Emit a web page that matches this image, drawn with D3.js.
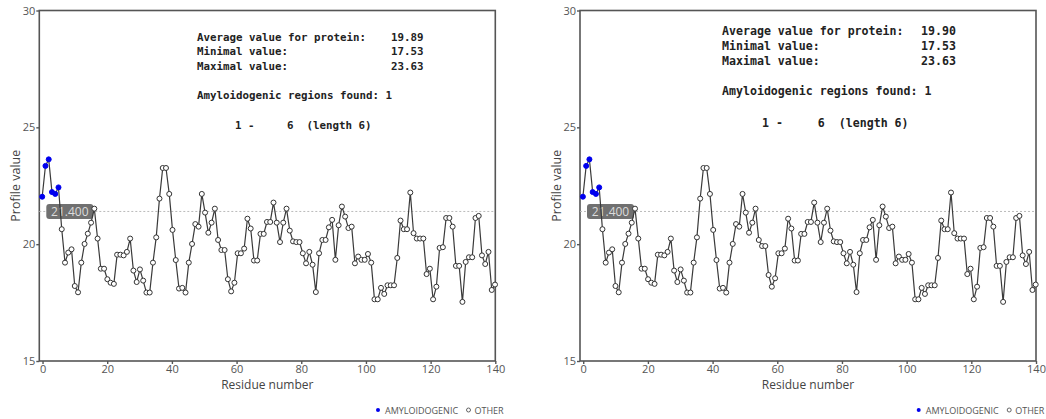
<!DOCTYPE html>
<html><head><meta charset="utf-8">
<script src="https://cdn.jsdelivr.net/npm/d3@7"></script>
<style>body{margin:0;background:#fff}svg{display:block}</style>
</head><body><svg id="c" width="1046" height="419"></svg>
<script>
// ---- data ----
const xTicks = [0, 20, 40, 60, 80, 100, 120, 140];
const yTicks = [15, 20, 25, 30];
const threshold = 21.4;
const amyloidRegion = [1, 6]; // residues 1-6

const leftProfile = [22.03,23.35,23.63,22.23,22.15,22.43,20.64,19.21,19.64,19.78,18.21,17.94,19.21,20.01,20.45,20.92,21.52,20.24,18.95,18.95,18.50,18.35,18.30,19.55,19.55,19.52,19.67,20.24,18.87,18.38,18.92,18.44,17.93,17.93,19.21,20.29,21.95,23.26,23.26,22.15,20.61,19.32,18.10,18.13,17.93,19.21,20.01,20.86,20.75,22.15,21.35,20.49,20.92,21.52,20.18,19.75,19.75,18.50,17.98,18.35,19.61,19.61,19.81,21.09,20.67,19.30,19.30,20.44,20.44,20.95,20.95,21.78,20.92,20.09,20.92,21.52,20.58,20.12,20.09,20.09,19.61,19.18,19.67,19.12,17.95,19.61,20.18,20.18,20.72,21.04,19.33,20.81,21.61,21.18,20.69,20.75,19.18,19.47,19.33,19.33,19.58,19.21,17.64,17.64,18.13,17.87,18.24,18.24,18.24,19.41,21.01,20.64,20.64,22.21,20.47,20.24,20.24,20.24,18.72,18.95,17.64,18.18,19.84,19.87,21.12,21.12,20.75,19.07,19.07,17.53,19.24,19.44,19.44,21.12,21.21,19.52,19.15,19.67,18.04,18.27];

const rightProfile = [22.03,23.35,23.63,22.23,22.15,22.43,20.64,19.21,19.64,19.78,18.21,17.94,19.21,20.01,20.45,20.92,21.52,20.24,18.95,18.95,18.50,18.35,18.30,19.55,19.55,19.52,19.67,20.24,18.87,18.38,18.92,18.44,17.93,17.93,19.21,20.29,21.95,23.26,23.26,22.15,20.61,19.32,18.10,18.13,17.93,19.21,20.01,20.86,20.75,22.15,21.35,20.49,20.92,21.52,20.18,19.92,19.92,18.68,18.18,18.54,19.61,19.61,19.81,21.09,20.67,19.30,19.30,20.44,20.44,20.95,20.95,21.78,20.92,20.09,20.92,21.52,20.58,20.12,20.09,20.09,19.61,19.18,19.67,19.12,17.95,19.61,20.18,20.18,20.72,21.04,19.33,20.81,21.61,21.18,20.69,20.75,19.18,19.47,19.33,19.33,19.58,19.21,17.64,17.64,18.13,17.87,18.24,18.24,18.24,19.41,21.01,20.64,20.64,22.21,20.47,20.24,20.24,20.24,18.72,18.95,17.64,18.18,19.84,19.87,21.12,21.12,20.75,19.07,19.07,17.53,19.24,19.44,19.44,21.12,21.21,19.52,19.15,19.67,18.04,18.27];

const statLabels = ["Average value for protein:", "Minimal value:", "Maximal value:"];
const leftStats = ["19.89", "17.53", "23.63"];
const rightStats = ["19.90", "17.53", "23.63"];
const regionsText = "Amyloidogenic regions found: 1";
const regionLine = "1 -     6  (length 6)";
const legendLabels = ["AMYLOIDOGENIC", "OTHER"];

// ---- drawing ----
const svg = d3.select("#c");
const panels = [
  {dx: 0, values: leftProfile, stats: leftStats, tx: 197, ty: 40.5, fs: 10.8, lh: 14.5, vx: 194, rx: 38, ry: [58.5, 88.5]},
  {dx: 540.7, values: rightProfile, stats: rightStats, tx: 722, ty: 35, fs: 11.6, lh: 15, vx: 199, rx: 40, ry: [60, 92]}
];

panels.forEach(p => {
  const g = svg.append("g").attr("transform", `translate(${p.dx},0)`);
  const left = 39.3, right = 495.3, top = 10.5, bottom = 361;
  const xAxisScale = d3.scaleLinear().domain([-1, 140]).range([left, right]);
  const n = p.values.length;
  const x = d3.scaleLinear().domain([1, n]).range([42.2, 495]);
  const y = d3.scaleLinear().domain([15, 30]).range([bottom, top]);

  // frame
  g.append("rect").attr("x", left).attr("y", top).attr("width", right - left).attr("height", bottom - top)
    .attr("fill", "none").attr("stroke", "#555").attr("stroke-width", 1.6);

  const ya = g.append("g").attr("transform", `translate(${left},0)`)
    .call(d3.axisLeft(y).tickValues(yTicks).tickSize(3).tickPadding(1));
  const xa = g.append("g").attr("transform", `translate(0,${bottom})`)
    .call(d3.axisBottom(xAxisScale).tickValues(xTicks).tickSize(3).tickPadding(1));
  [ya, xa].forEach(a => {
    a.select(".domain").remove();
    a.selectAll("line").attr("stroke", "#555").attr("stroke-width", 1.4);
    a.selectAll("text").attr("fill", "#555").style("font-family", "'Open Sans', sans-serif").style("font-size", "11px");
  });

  g.append("text").attr("x", (left + right) / 2).attr("y", 389).attr("text-anchor", "middle")
    .attr("fill", "#444").style("font-family", "'Open Sans', sans-serif").style("font-size", "12px").text("Residue number");
  g.append("text").attr("transform", `translate(20,${(top + bottom) / 2}) rotate(-90)`).attr("text-anchor", "middle")
    .attr("fill", "#444").style("font-family", "'Open Sans', sans-serif").style("font-size", "12.5px").text("Profile value");

  // threshold line
  g.append("line").attr("x1", left).attr("x2", right).attr("y1", y(threshold)).attr("y2", y(threshold))
    .attr("stroke", "#bbb").attr("stroke-width", 1).attr("stroke-dasharray", "2,2");
  const by = y(threshold);
  g.append("rect").attr("x", left + 7).attr("y", by - 7.5).attr("width", 47).attr("height", 15).attr("rx", 3)
    .attr("fill", "#707070");
  g.append("text").attr("x", left + 7 + 23.5).attr("y", by + 4.2).attr("text-anchor", "middle")
    .attr("fill", "#dcdcdc").style("font-family", "'Open Sans', sans-serif").style("font-size", "12px")
    .text(threshold.toFixed(3));

  // line + points
  const pts = p.values.map((v, k) => ({r: k + 1, v, amy: k + 1 >= amyloidRegion[0] && k + 1 <= amyloidRegion[1]}));
  g.append("path").datum(pts).attr("fill", "none").attr("stroke", "#3a3a3a").attr("stroke-width", 1.2)
    .attr("d", d3.line().x(d => x(d.r)).y(d => y(d.v)));
  g.selectAll("circle.pt").data(pts).join("circle").attr("class", "pt")
    .attr("cx", d => x(d.r)).attr("cy", d => y(d.v)).attr("r", 2.5)
    .attr("fill", d => d.amy ? "#0000ee" : "#fff")
    .attr("stroke", d => d.amy ? "#0000ee" : "#333").attr("stroke-width", 1);

  // stats text
  const mono = "'DejaVu Sans Mono', monospace";
  const tg = g.append("g").attr("fill", "#222").style("font-family", mono).style("font-size", p.fs + "px").style("font-weight", "bold");
  const tx = p.tx - p.dx;
  statLabels.forEach((s, k) => {
    tg.append("text").attr("x", tx).attr("y", p.ty + k * p.lh).text(s);
    tg.append("text").attr("x", tx + p.vx).attr("y", p.ty + k * p.lh).text(p.stats[k]);
  });
  tg.append("text").attr("x", tx).attr("y", p.ty + p.ry[0]).text(regionsText);
  tg.append("text").attr("x", tx + p.rx).attr("y", p.ty + p.ry[1]).attr("xml:space", "preserve").style("white-space", "pre").text(regionLine);

  // legend
  const lg = g.append("g").style("font-family", "'Open Sans', sans-serif").style("font-size", "9px").attr("fill", "#555");
  lg.append("circle").attr("cx", 378).attr("cy", 410).attr("r", 2).attr("fill", "#0000ee");
  lg.append("text").attr("x", 385).attr("y", 413.5).text(legendLabels[0]);
  lg.append("circle").attr("cx", 468.5).attr("cy", 410).attr("r", 2).attr("fill", "#fff").attr("stroke", "#555").attr("stroke-width", 0.9);
  lg.append("text").attr("x", 474.5).attr("y", 413.5).text(legendLabels[1]);
});
</script></body></html>
